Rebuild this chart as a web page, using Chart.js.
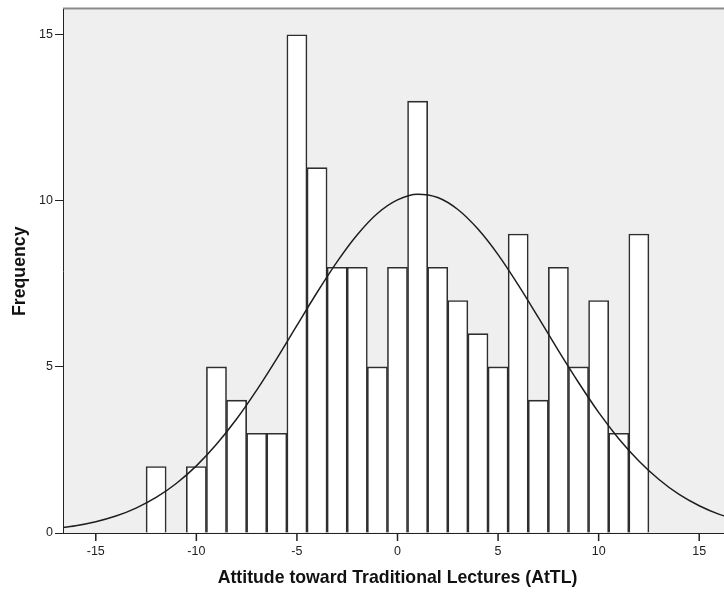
<!DOCTYPE html>
<html>
<head>
<meta charset="utf-8">
<script src="https://cdn.jsdelivr.net/npm/chart.js@4.4.1/dist/chart.umd.min.js"></script>
<style>
  html, body { margin: 0; padding: 0; background: #fff; overflow: hidden; }
  /* the plot runs a little past the right edge of the frame */
  #wrap { width: 724px; height: 596px; overflow: hidden; }
</style>
</head>
<body>
<div id="wrap"><canvas id="hist" width="732" height="596"></canvas></div>
<script>
// histogram bins (bin width 1, centred on integers)
const binCenters = [-12, -10, -9, -8, -7, -6, -5, -4, -3, -2, -1, 0, 1, 2, 3, 4, 5, 6, 7, 8, 9, 10, 11, 12];
const binCounts  = [2, 2, 5, 4, 3, 3, 15, 11, 8, 8, 5, 8, 13, 8, 7, 6, 5, 9, 4, 8, 5, 7, 3, 9];

// normal curve overlay, sampled once per unit
const curveX = [-17, -16, -15, -14, -13, -12, -11, -10, -9, -8, -7, -6, -5, -4, -3, -2, -1, 0,
                1, 2, 3, 4, 5, 6, 7, 8, 9, 10, 11, 12, 13, 14, 15, 16, 17];
const curveY = [0.14, 0.22, 0.34, 0.51, 0.75, 1.07, 1.49, 2.02, 2.67, 3.43, 4.30, 5.25, 6.25, 7.24, 8.17, 8.98, 9.62, 10.03,
                10.20, 10.10, 9.74, 9.15, 8.38, 7.47, 6.49, 5.49, 4.53, 3.63, 2.84, 2.17, 1.61, 1.16, 0.82, 0.56, 0.38];

const xTicks = [-15, -10, -5, 0, 5, 10, 15];
const yTicks = [0, 5, 10, 15];

const FONT = "'Liberation Sans', Arial, sans-serif";
const TICK_LEN = 8;

// grey plot panel with a darker top edge, plus x tick marks
const plotPanel = {
  id: "plotPanel",
  beforeDraw(chart) {
    const { ctx, chartArea: a } = chart;
    ctx.save();
    ctx.fillStyle = "#efefef";
    ctx.fillRect(a.left, a.top, a.right - a.left, a.bottom - a.top);
    ctx.strokeStyle = "#8a8a8a";
    ctx.lineWidth = 2;
    ctx.beginPath();
    ctx.moveTo(a.left, a.top - 1);
    ctx.lineTo(a.right, a.top - 1);
    ctx.stroke();
    ctx.restore();
  },
  afterDraw(chart) {
    const { ctx, scales: { x } } = chart;
    ctx.save();
    ctx.strokeStyle = "#222";
    ctx.lineWidth = 1.5;
    ctx.beginPath();
    xTicks.forEach(v => {
      const px = x.getPixelForValue(v);
      ctx.moveTo(px, x.top);
      ctx.lineTo(px, x.top + TICK_LEN);
    });
    ctx.stroke();
    ctx.restore();
  }
};

new Chart(document.getElementById("hist"), {
  type: "bar",
  data: {
    datasets: [
      {
        type: "line",
        data: curveX.map((x, i) => ({ x, y: curveY[i] })),
        borderColor: "#1e1e1e",
        borderWidth: 1.5,
        pointRadius: 0,
        cubicInterpolationMode: "monotone",
        order: 0
      },
      {
        data: binCenters.map((x, i) => ({ x, y: binCounts[i] })),
        backgroundColor: "#ffffff",
        borderColor: "#2e2e2e",
        borderWidth: 1.6,
        barPercentage: 1,
        categoryPercentage: 1,
        order: 1
      }
    ]
  },
  options: {
    responsive: false,
    animation: false,
    layout: { padding: { top: 9, right: 0, left: 0, bottom: 0 } },
    plugins: { legend: { display: false }, tooltip: { enabled: false } },
    scales: {
      x: {
        type: "linear",
        offset: false,
        min: -16.63,
        max: 16.63,
        afterBuildTicks: s => { s.ticks = xTicks.map(v => ({ value: v })); },
        afterFit: s => { s.height = 63; },
        grid: { display: false, offset: false, drawTicks: true, tickLength: TICK_LEN },
        border: { display: true, color: "#222", width: 1 },
        ticks: { color: "#222", padding: 3, maxRotation: 0, font: { family: FONT, size: 12.5 } },
        title: {
          display: true,
          text: "Attitude toward Traditional Lectures (AtTL)",
          color: "#111",
          padding: { top: 0, bottom: 7 },
          font: { family: FONT, size: 17.7, weight: "bold" }
        }
      },
      y: {
        min: 0,
        max: 15.76,
        afterBuildTicks: s => { s.ticks = yTicks.map(v => ({ value: v })); },
        afterFit: s => { s.width = 63; },
        grid: { drawOnChartArea: false, drawTicks: true, tickLength: TICK_LEN, tickColor: "#222", tickWidth: 1 },
        border: { display: true, color: "#222", width: 1 },
        ticks: { color: "#222", padding: 2, font: { family: FONT, size: 12.5 } },
        title: {
          display: true,
          text: "Frequency",
          color: "#111",
          padding: { top: 9, bottom: 0 },
          font: { family: FONT, size: 17.7, weight: "bold" }
        }
      }
    }
  },
  plugins: [plotPanel]
});
</script>
</body>
</html>
